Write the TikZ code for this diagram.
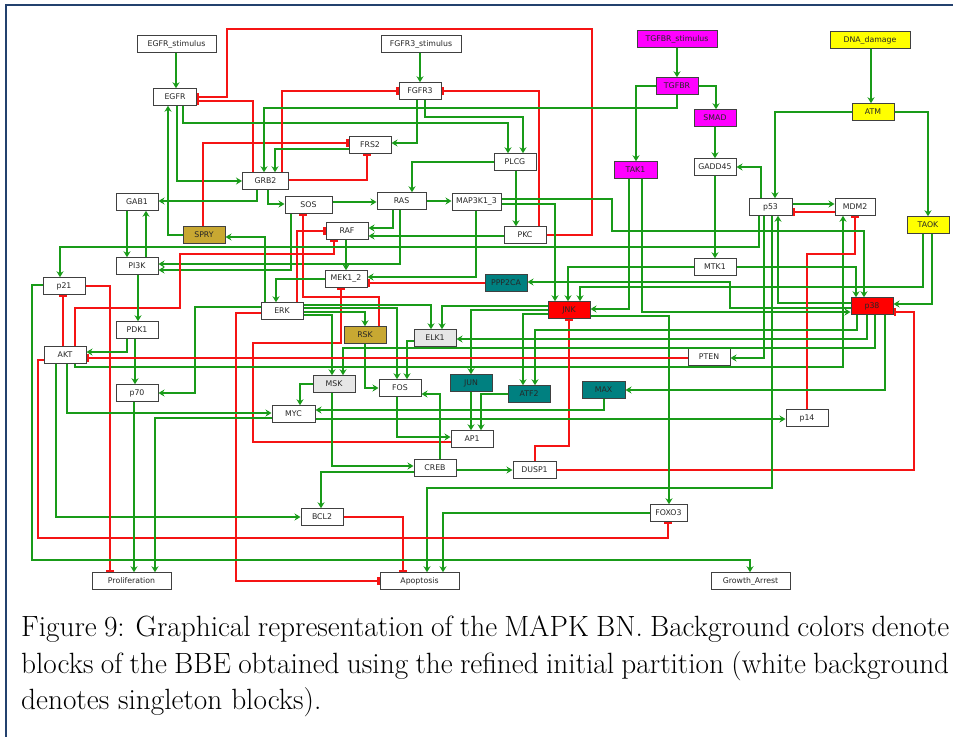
\documentclass[tikz,border=0pt]{standalone}
\usepackage{fontspec}
\newfontfamily\nodefont{DejaVu Sans}
\usetikzlibrary{arrows.meta}
\definecolor{actgreen}{RGB}{25,155,25}
\definecolor{inhred}{RGB}{245,20,20}
\definecolor{magentab}{RGB}{255,0,255}
\definecolor{yellowb}{RGB}{255,255,0}
\definecolor{redb}{RGB}{255,0,0}
\definecolor{tealb}{RGB}{0,128,128}
\definecolor{oliveb}{RGB}{200,168,50}
\definecolor{greyb}{RGB}{230,230,230}
\definecolor{framecol}{RGB}{35,65,110}
\tikzset{
  gene/.style={draw=black!75, line width=1pt, fill=white, minimum width=42pt,
    minimum height=16.5pt, inner sep=0pt, text=black!85,
    font=\nodefont\fontsize{7.8}{9}\selectfont},
  wide/.style={minimum width=79pt},
  act/.style={draw=actgreen, line width=1.3pt, -{Stealth[length=6pt,width=7pt,inset=2pt]}},
  inh/.style={draw=inhred, line width=1.3pt, -{Bar[width=8pt,line width=2.4pt]}},
}
\begin{document}
\begin{tikzpicture}[x=1pt,y=-1pt]
\useasboundingbox (0,0) rectangle (955,736);
\fill[white] (0,0) rectangle (955,736);
% frame
\draw[framecol, line width=1.2pt] (6,740) -- (6,5) -- (953,5);

% ---------- nodes ----------
\node[gene,wide] (EGFRstim) at (176.5,44) {EGFR\_stimulus};
\node[gene,minimum width=43pt] (EGFR) at (175,97) {EGFR};
\node[gene,wide,minimum width=80pt] (FGFR3stim) at (421,44) {FGFR3\_stimulus};
\node[gene] (FGFR3) at (420,91) {FGFR3};
\node[gene] (FRS2) at (370,145) {FRS2};
\node[gene] (PLCG) at (515,162) {PLCG};
\node[gene,minimum width=46pt] (GRB2) at (265.5,181) {GRB2};
\node[gene] (GAB1) at (137,202) {GAB1};
\node[gene,minimum width=47pt] (SOS) at (308.5,205) {SOS};
\node[gene,minimum width=49pt] (RAS) at (401.5,201) {RAS};
\node[gene,minimum width=49pt] (MAPK3) at (476.5,202) {MAP3K1\_3};
\node[gene,fill=oliveb] (SPRY) at (204,235) {SPRY};
\node[gene] (RAF) at (347,231) {RAF};
\node[gene] (PKC) at (525,235) {PKC};
\node[gene] (PI3K) at (137,266) {PI3K};
\node[gene] (p21) at (64,286) {p21};
\node[gene] (MEK) at (346,279) {MEK1\_2};
\node[gene,fill=tealb] (PPP2CA) at (506,283) {PPP2CA};
\node[gene] (ERK) at (282,311) {ERK};
\node[gene,fill=redb] (JNK) at (569,310) {JNK};
\node[gene] (PDK1) at (137,330) {PDK1};
\node[gene,fill=oliveb] (RSK) at (365,335) {RSK};
\node[gene,fill=greyb] (ELK1) at (435,338) {ELK1};
\node[gene] (AKT) at (65,355) {AKT};
\node[gene] (PTEN) at (709,357) {PTEN};
\node[gene,fill=greyb] (MSK) at (334,384) {MSK};
\node[gene] (FOS) at (400,388) {FOS};
\node[gene,fill=tealb] (JUN) at (471,383) {JUN};
\node[gene,fill=tealb] (ATF2) at (529,394) {ATF2};
\node[gene,fill=tealb,minimum width=43pt] (MAX) at (603.5,390) {MAX};
\node[gene] (p70) at (137,393) {p70};
\node[gene,minimum width=43pt] (MYC) at (293.5,414) {MYC};
\node[gene] (p14) at (807,418) {p14};
\node[gene] (AP1) at (472,439) {AP1};
\node[gene] (CREB) at (435,468) {CREB};
\node[gene,minimum width=43pt] (DUSP1) at (534.5,470) {DUSP1};
\node[gene] (BCL2) at (322,517) {BCL2};
\node[gene,minimum width=37pt] (FOXO3) at (668.5,513) {FOXO3};
\node[gene,wide] (Prolif) at (131.5,581) {Proliferation};
\node[gene,wide] (Apop) at (419.5,581) {Apoptosis};
\node[gene,wide] (GA) at (750.5,581) {Growth\_Arrest};
\node[gene,wide,minimum width=80pt,fill=magentab] (TGFBRstim) at (677,39) {TGFBR\_stimulus};
\node[gene,fill=magentab] (TGFBR) at (677,86) {TGFBR};
\node[gene,fill=magentab] (SMAD) at (715,118) {SMAD};
\node[gene,fill=magentab,minimum width=43pt] (TAK1) at (635.5,170) {TAK1};
\node[gene] (GADD45) at (715,167) {GADD45};
\node[gene,wide,minimum width=80pt,fill=yellowb] (DNAdmg) at (870,40) {DNA\_damage};
\node[gene,fill=yellowb] (ATM) at (873,112) {ATM};
\node[gene,minimum width=43pt] (p53) at (770.5,207) {p53};
\node[gene,minimum width=40pt] (MDM2) at (855,207) {MDM2};
\node[gene,fill=yellowb] (TAOK) at (928,225) {TAOK};
\node[gene] (MTK1) at (715,267) {MTK1};
\node[gene,fill=redb] (p38) at (872,306) {p38};

% ---------- receptor layer ----------
\draw[act] (176,0 |- EGFRstim.south) -- (176,0 |- EGFR.north);
\draw[act] (SPRY.west) -| (168,0 |- EGFR.south);
\draw[inh] (PKC.east) -| (592,29) -| (227,97) -- (EGFR.east);
\draw[inh] (253,0 |- GRB2.north) |- (EGFR.east |- 0,101);
\draw[act] (177,0 |- EGFR.south) |- (GRB2.west);
\draw[act] (183,0 |- EGFR.south) |- (508,123) -- (508,0 |- PLCG.north);
\draw[act] (425,0 |- FGFR3.south) |- (523,117) -- (523,0 |- PLCG.north);
\draw[act] (417,0 |- FGFR3.south) |- (FRS2.east |- 0,143);
\draw[act] (420,0 |- FGFR3stim.south) -- (420,0 |- FGFR3.north);
\draw[inh] (539,0 |- PKC.north) |- (FGFR3.east);
\draw[inh] (282,0 |- GRB2.north) |- (FGFR3.west);
\draw[inh] (203,0 |- SPRY.north) |- (FRS2.west |- 0,143);
\draw[inh] (GRB2.east |- 0,180) -| (367,0 |- FRS2.south);
\draw[act] (677,0 |- TGFBR.south) |- (264,108) -- (264,0 |- GRB2.north);
\draw[act] (FRS2.west |- 0,149) -| (275,0 |- GRB2.north);
\draw[act] (257,0 |- GRB2.south) |- (GAB1.east |- 0,201);
\draw[act] (268,0 |- GRB2.south) |- (SOS.west |- 0,204);

% ---------- RAS / RAF / MEK / ERK ----------
\draw[act] (127,0 |- GAB1.south) -- (127,0 |- PI3K.north);
\draw[act] (146,0 |- PI3K.north) -- (146,0 |- GAB1.south);
\draw[act] (291,0 |- SOS.south) |- (PI3K.east |- 0,270);
\draw[act] (400,0 |- RAS.south) |- (PI3K.east |- 0,264);
\draw[act] (393,0 |- RAS.south) |- (RAF.east |- 0,228);
\draw[act] (PKC.west |- 0,236) -- (RAF.east |- 0,236);
\draw[act] (346,0 |- RAF.south) -- (346,0 |- MEK.north);
\draw[act] (476,0 |- MAPK3.south) |- (MEK.east |- 0,277);
\draw[inh] (PPP2CA.west) -- (MEK.east |- PPP2CA.west);
\draw[inh] (AP1.west |- 0,442) -| (253,343) -| (341,0 |- MEK.south);
\draw[inh] (297,0 |- ERK.north) |- (RAF.west);
\draw[inh] (379,0 |- RSK.north) |- (303,297) -- (303,0 |- SOS.south);
\draw[inh] (75,0 |- AKT.north) |- (180,308) |- (334,254) -- (334,0 |- RAF.south);
\draw[act] (265,0 |- ERK.north) |- (SPRY.east |- 0,237);
\draw[act] (MEK.west) -| (276,0 |- ERK.north);
\draw[act] (RAS.east |- 0,201) -- (MAPK3.west |- 0,201);
\draw[act] (SOS.east |- 0,202) -- (RAS.west |- 0,202);
\draw[act] (PLCG.west) -| (412,0 |- RAS.north);
\draw[act] (516,0 |- PLCG.south) -- (516,0 |- PKC.north);

% ---------- p53 / stress branch ----------
\draw[act] (759,0 |- p53.south) |- (60,247) -- (60,0 |- p21.north);
\draw[act] (764,0 |- p53.south) |- (PTEN.east |- 0,358);
\draw[act] (ATM.west) -| (775,0 |- p53.north);
\draw[act] (p38.west |- 0,303) -| (778,0 |- p53.south);
\draw[act] (p53.east |- 0,204) -- (MDM2.west |- 0,204);
\draw[inh] (MDM2.west |- 0,212) -- (p53.east |- 0,212);
\draw[act] (75,0 |- AKT.south) |- (843,367) -- (843,0 |- MDM2.south);
\draw[inh] (807,0 |- p14.north) |- (855,254) -- (855,0 |- MDM2.south);
\draw[act] (871,0 |- DNAdmg.south) -- (871,0 |- ATM.north);
\draw[act] (ATM.east) -| (928,0 |- TAOK.north);
\draw[act] (932,0 |- TAOK.south) |- (p38.east |- 0,304);
\draw[act] (923,0 |- TAOK.south) |- (580,287) -- (580,0 |- JNK.north);
\draw[act] (MTK1.east) -| (856,0 |- p38.north);
\draw[act] (MTK1.west) -| (568,0 |- JNK.north);
\draw[act] (MAPK3.east |- 0,204) -| (555,0 |- JNK.north);
\draw[act] (MAPK3.east |- 0,199) -| (612,231) -| (864,0 |- p38.north);
\draw[act] (715,0 |- GADD45.south) -- (715,0 |- MTK1.north);
\draw[act] (715,0 |- SMAD.south) -- (715,0 |- GADD45.north);
\draw[act] (761,0 |- p53.north) |- (GADD45.east);
\draw[act] (TGFBR.east) -| (716,0 |- SMAD.north);
\draw[act] (TGFBR.west) -| (636,0 |- TAK1.north);
\draw[act] (677,0 |- TGFBRstim.south) -- (677,0 |- TGFBR.north);
\draw[act] (642,0 |- TAK1.south) |- (p38.west |- 0,312);
\draw[act] (629,0 |- TAK1.south) |- (JNK.east |- 0,309);
\draw[inh] (535,0 |- DUSP1.north) |- (569,446) -- (569,0 |- JNK.south);
\draw[inh] (DUSP1.east) -| (914,312) -- (p38.east |- 0,312);

% ---------- transcription factors ----------
\draw[act] (JNK.west |- 0,310) -| (471,0 |- JUN.north);
\draw[act] (JNK.west |- 0,306) -| (442,0 |- ELK1.north);
\draw[act] (ERK.east |- 0,305) -| (431,0 |- ELK1.north);
\draw[act] (867,0 |- p38.south) |- (ELK1.east |- 0,339);
\draw[act] (857,0 |- p38.south) |- (535,330) -- (535,0 |- ATF2.north);
\draw[act] (875,0 |- p38.south) |- (343,348) -- (343,0 |- MSK.north);
\draw[act] (885,0 |- p38.south) |- (MAX.east);
\draw[act] (p38.west |- 0,308) -| (730,282) -- (PPP2CA.east |- 0,282);
\draw[act] (JNK.west |- 0,314) -| (523,0 |- ATF2.north);
\draw[act] (ERK.east |- 0,308) -| (397,0 |- FOS.north);
\draw[act] (ERK.east |- 0,312) -| (365,0 |- RSK.north);
\draw[act] (ERK.east |- 0,315) -| (332,0 |- MSK.north);
\draw[act] (ERK.west |- 0,307) -| (195,393) -- (p70.east |- 0,393);
\draw[inh] (ERK.west |- 0,313) -| (236,581) -- (Apop.west |- 0,581);
\draw[act] (365,0 |- RSK.south) |- (FOS.west |- 0,388);
\draw[act] (ELK1.west |- 0,341) -| (407,0 |- FOS.north);
\draw[act] (440,0 |- CREB.north) |- (FOS.east |- 0,394);
\draw[act] (397,0 |- FOS.south) |- (AP1.west |- 0,437);
\draw[act] (471,0 |- JUN.south) -- (471,0 |- AP1.north);
\draw[act] (ATF2.west) -| (481,0 |- AP1.north);
\draw[act] (332,0 |- MSK.south) |- (CREB.west |- 0,466);
\draw[act] (MSK.west) -| (300,0 |- MYC.north);
\draw[act] (604,0 |- MAX.south) |- (MYC.east |- 0,410);
\draw[act] (CREB.east |- 0,470) -- (DUSP1.west |- 0,470);
\draw[act] (CREB.west |- 0,472) -| (321,0 |- BCL2.north);

% ---------- outputs ----------
\draw[act] (56,0 |- AKT.south) |- (BCL2.west);
\draw[inh] (BCL2.east) -| (403,0 |- Apop.north);
\draw[act] (FOXO3.west) -| (443,0 |- Apop.north);
\draw[act] (772,0 |- p53.south) |- (427,488) -- (427,0 |- Apop.north);
\draw[act] (JNK.east |- 0,316) -| (669,0 |- FOXO3.north);
\draw[inh] (AKT.west |- 0,360) -| (38,538) -| (668,0 |- FOXO3.south);
\draw[inh] (p21.east) -| (110,0 |- Prolif.north);
\draw[inh] (63,0 |- AKT.north) -- (63,0 |- p21.south);
\draw[act] (p21.west |- 0,285) -| (32,560) -| (750,0 |- GA.north);
\draw[act] (134,0 |- p70.south) -- (134,0 |- Prolif.north);
\draw[act] (MYC.west |- 0,418) -| (155,0 |- Prolif.north);
\draw[act] (67,0 |- AKT.south) |- (MYC.west |- 0,413);
\draw[act] (MYC.east |- 0,419) -- (p14.west |- 0,419);
\draw[act] (127,0 |- PDK1.south) |- (AKT.east |- 0,352);
\draw[act] (135,0 |- PDK1.south) -- (135,0 |- p70.north);
\draw[act] (138,0 |- PI3K.south) -- (138,0 |- PDK1.north);
\draw[inh] (PTEN.west |- 0,358) -- (AKT.east |- 0,358);

% ---------- caption ----------
\node[anchor=north west, text width=928pt, align=justify, inner sep=0pt,
      font=\fontsize{29.3}{36.5}\selectfont] (caption) at (21,616)
  {Figure 9: Graphical representation of the MAPK BN. Background colors denote\linebreak
   blocks of the BBE obtained using the refined initial partition (white background\linebreak
   denotes singleton blocks).};
\end{tikzpicture}
\end{document}
